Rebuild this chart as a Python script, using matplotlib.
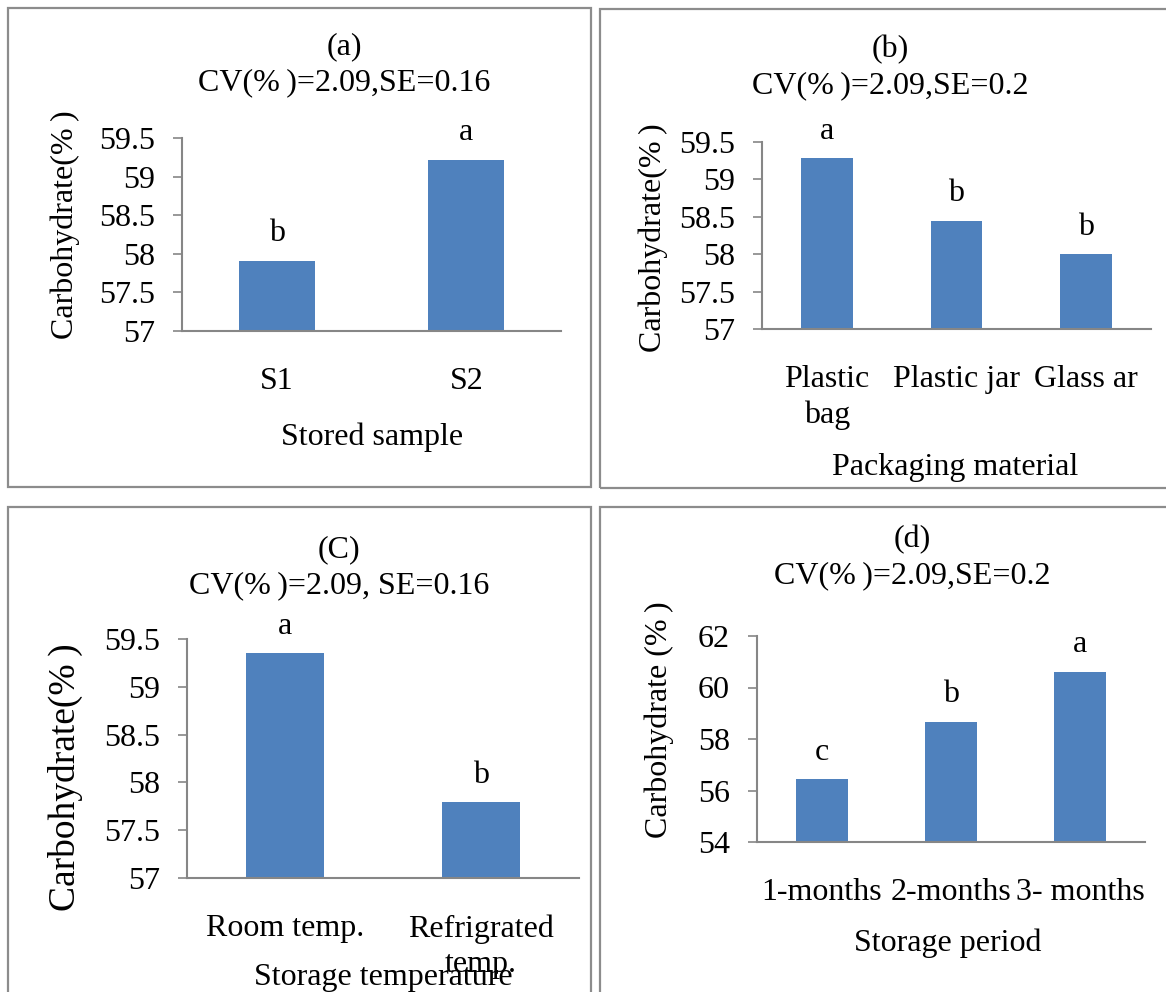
import numpy as np
import matplotlib
matplotlib.use("Agg")
import matplotlib.pyplot as plt
from matplotlib.patches import Rectangle

plt.rcParams['font.family'] = ['Liberation Serif', 'DejaVu Serif']

# data
samples = ['S1', 'S2']
sample_vals = [57.91, 59.22]
sample_sig = ['b', 'a']

packs = ['Plastic\nbag', 'Plastic jar', 'Glass ar']
pack_vals = [59.28, 58.45, 58.00]
pack_sig = ['a', 'b', 'b']

temps = ['Room temp.', 'Refrigrated\ntemp.']
temp_vals = [59.35, 57.79]
temp_sig = ['a', 'b']

periods = ['1-months', '2-months', '3- months']
period_vals = [56.43, 58.67, 60.62]
period_sig = ['c', 'b', 'a']

W, H = 1166, 992
fig = plt.figure(figsize=(W / 100, H / 100), dpi=100)
BLUE = '#4F81BD'
GREY = '#868686'
FS = 23
TS = '\u2009'  # thin space seen after the % sign


def fx(x):
    return x / W


def fy(y):
    return 1 - y / H


def panel(box, cats, vals, sig, ylim, yticks, title, sub, tpos,
          xlab, xpos, ylab, ypos, ylab_fs=FS, xpad=26):
    x0, y0, x1, y1 = box
    ax = fig.add_axes([fx(x0), fy(y1), (x1 - x0) / W, (y1 - y0) / H])
    x = np.arange(len(cats))
    ax.bar(x, vals, width=0.4, color=BLUE, zorder=2)
    ax.set_xlim(-0.5, len(cats) - 0.5)
    ax.set_ylim(*ylim)
    ax.set_yticks(yticks)
    ax.set_yticklabels(['%g' % v for v in yticks], fontsize=FS)
    ax.set_xticks(x)
    ax.set_xticklabels(cats, fontsize=FS, linespacing=1.3)
    ax.tick_params(axis='y', length=6.5, width=1.2, color=GREY, pad=13)
    ax.tick_params(axis='x', length=0, pad=xpad)
    for s in ['top', 'right']:
        ax.spines[s].set_visible(False)
    for s in ['left', 'bottom']:
        ax.spines[s].set_color(GREY)
        ax.spines[s].set_linewidth(1.5)
    for xi, v, s in zip(x, vals, sig):
        ax.annotate(s, (xi, v), xytext=(0, 19.5), textcoords='offset points',
                    ha='center', va='center', fontsize=FS)
    fig.text(fx(tpos[0]), fy(tpos[1]), title, ha='center', va='center', fontsize=FS)
    fig.text(fx(tpos[0]), fy(tpos[1] + 36), sub, ha='center', va='center', fontsize=FS)
    fig.text(fx(xpos[0]), fy(xpos[1]), xlab, ha='center', va='center', fontsize=FS)
    fig.text(fx(ypos[0]), fy(ypos[1]), ylab, ha='center', va='center',
             fontsize=ylab_fs, rotation=90)
    return ax


panel((182, 138, 561, 331), samples, sample_vals, sample_sig, (57, 59.5),
      np.arange(57, 59.51, 0.5), '(a)', 'CV(%' + TS + ')=2.09,SE=0.16', (344, 47),
      'Stored sample', (372, 437), 'Carbohydrate(%' + TS + ')', (65, 225))

panel((762, 142, 1151, 329), packs, pack_vals, pack_sig, (57, 59.5),
      np.arange(57, 59.51, 0.5), '(b)', 'CV(%' + TS + ')=2.09,SE=0.2', (890, 50),
      'Packaging material', (955, 467), 'Carbohydrate(%' + TS + ')', (653, 238))

panel((187, 639, 579, 878), temps, temp_vals, temp_sig, (57, 59.5),
      np.arange(57, 59.51, 0.5), '(C)', 'CV(%' + TS + ')=2.09, SE=0.16', (339, 550),
      'Storage temperature', (383, 977), 'Carbohydrate(%' + TS + ')', (65, 777),
      ylab_fs=27)

panel((757, 636, 1145, 842), periods, period_vals, period_sig, (54, 62),
      np.arange(54, 62.1, 2), '(d)', 'CV(%' + TS + ')=2.09,SE=0.2', (912, 540),
      'Storage period', (948, 943), 'Carbohydrate (%' + TS + ')', (659, 720))

# panel frames
for (x0, y0, x1, y1) in [(8, 8, 591, 487), (600, 9, 1172, 488),
                         (8, 507, 591, 1000), (600, 507, 1172, 1000)]:
    fig.patches.append(Rectangle((fx(x0), fy(y1)), (x1 - x0) / W, (y1 - y0) / H,
                                 transform=fig.transFigure, fill=False,
                                 edgecolor='#8c8c8c', linewidth=1.6))

fig.savefig('out.png', dpi=100)
